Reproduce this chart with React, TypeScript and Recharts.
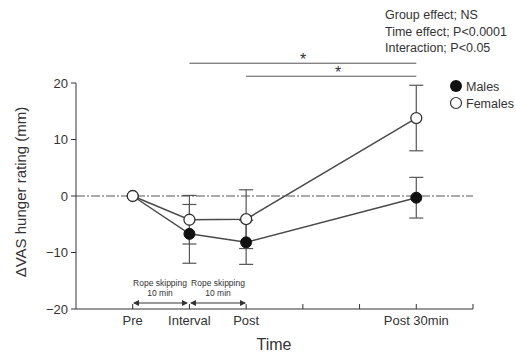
import {
  ComposedChart,
  Line,
  XAxis,
  YAxis,
  ErrorBar,
  ReferenceLine,
} from 'recharts'

const timePoints = [1, 2, 3, 6]
const timeLabels: Record<number, string> = { 1: 'Pre', 2: 'Interval', 3: 'Post', 6: 'Post 30min' }
const xTicks = [1, 2, 3, 4, 5, 6, 7]
const yTicks = [-20, -10, 0, 10, 20]

const malesMean = [0, -6.7, -8.2, -0.3]
const malesSE = [0, 5.2, 3.9, 3.6]
const femalesMean = [0, -4.2, -4.1, 13.8]
const femalesSE = [0, 4.3, 5.2, 5.8]

const statsLines = ['Group effect; NS', 'Time effect; P<0.0001', 'Interaction; P<0.05']

const data = timePoints.map((t, i) => ({
  t,
  males: malesMean[i],
  malesErr: malesSE[i],
  females: femalesMean[i],
  femalesErr: femalesSE[i],
}))

const FONT = 'Arial, "Liberation Sans", sans-serif'
const INK = '#333'

// eslint-disable-next-line @typescript-eslint/no-explicit-any
function TimeTick({ x, y, payload }: any) {
  const label = timeLabels[payload.value]
  return (
    <g>
      <line x1={x} x2={x} y1={y} y2={y - 5} stroke={INK} strokeWidth={1} />
      {label && (
        <text x={x} y={y + 16} textAnchor="middle" fontSize={13} fill={INK} fontFamily={FONT}>
          {label}
        </text>
      )}
    </g>
  )
}

function Arrow({ x1, x2, y }: { x1: number; x2: number; y: number }) {
  return (
    <g stroke={INK} fill={INK} strokeWidth={1}>
      <line x1={x1 + 1} x2={x2 - 1} y1={y} y2={y} />
      <polygon points={`${x1},${y} ${x1 + 6},${y - 3} ${x1 + 6},${y + 3}`} strokeWidth={0} />
      <polygon points={`${x2},${y} ${x2 - 6},${y - 3} ${x2 - 6},${y + 3}`} strokeWidth={0} />
    </g>
  )
}

export default function App() {
  return (
    <div style={{ position: 'absolute', left: 0, top: 0, width: 516, height: 354, background: '#fff' }}>
      <ComposedChart
        width={516}
        height={354}
        data={data}
        margin={{ top: 83, right: 43, bottom: 15, left: 36 }}
      >
        <XAxis
          dataKey="t"
          type="number"
          domain={[0, 7]}
          ticks={xTicks}
          interval={0}
          height={30}
          tickSize={0}
          tickMargin={0}
          tickLine={false}
          tick={<TimeTick />}
          axisLine={{ stroke: INK, strokeWidth: 1 }}
        />
        <YAxis
          type="number"
          domain={[-20, 20]}
          ticks={yTicks}
          width={40}
          tickSize={5}
          tickMargin={3}
          tickFormatter={(v: number) => (v < 0 ? '\u2212' + Math.abs(v) : String(v))}
          tick={{ fontSize: 13, fill: INK, fontFamily: FONT }}
          tickLine={{ stroke: INK }}
          axisLine={{ stroke: INK, strokeWidth: 1 }}
        />
        <ReferenceLine y={0} stroke="#555" strokeWidth={1} strokeDasharray="9 2 2 2" />
        <ReferenceLine
          segment={[{ x: 2, y: 23.5 }, { x: 6, y: 23.5 }]}
          stroke="#555"
          strokeWidth={1}
          ifOverflow="visible"
        />
        <ReferenceLine
          segment={[{ x: 3, y: 21.2 }, { x: 6, y: 21.2 }]}
          stroke="#555"
          strokeWidth={1}
          ifOverflow="visible"
        />
        <Line
          dataKey="males"
          type="linear"
          stroke="#4a4a4a"
          strokeWidth={1.5}
          isAnimationActive={false}
          dot={{ r: 5.5, fill: '#111', stroke: '#111', strokeWidth: 1 }}
        >
          <ErrorBar dataKey="malesErr" direction="y" width={7} stroke="#555" strokeWidth={1.2} />
        </Line>
        <Line
          dataKey="females"
          type="linear"
          stroke="#4a4a4a"
          strokeWidth={1.5}
          isAnimationActive={false}
          dot={{ r: 5.5, fill: '#fff', stroke: '#333', strokeWidth: 1.3 }}
        >
          <ErrorBar dataKey="femalesErr" direction="y" width={7} stroke="#555" strokeWidth={1.2} />
        </Line>
      </ComposedChart>

      <svg
        width={516}
        height={354}
        style={{ position: 'absolute', left: 0, top: 0, pointerEvents: 'none' }}
        fontFamily={FONT}
      >
        {statsLines.map((s, i) => (
          <text key={s} x={385} y={19 + i * 16.5} fontSize={12.5} fill={INK}>
            {s}
          </text>
        ))}
        <text x={303} y={65} textAnchor="middle" fontSize={16} fill={INK}>*</text>
        <text x={338} y={78} textAnchor="middle" fontSize={16} fill={INK}>*</text>

        <circle cx={456} cy={86} r={6} fill="#111" />
        <text x={466} y={91} fontSize={12.5} fill={INK}>Males</text>
        <circle cx={456} cy={103} r={5.5} fill="#fff" stroke="#333" strokeWidth={1.2} />
        <text x={466} y={108} fontSize={12.5} fill={INK}>Females</text>

        <text x={160} y={286} textAnchor="middle" fontSize={8.5} fill={INK}>Rope skipping</text>
        <text x={160} y={296} textAnchor="middle" fontSize={8.5} fill={INK}>10 min</text>
        <text x={218} y={286} textAnchor="middle" fontSize={8.5} fill={INK}>Rope skipping</text>
        <text x={218} y={296} textAnchor="middle" fontSize={8.5} fill={INK}>10 min</text>
        <Arrow x1={133} x2={188} y={303} />
        <Arrow x1={190} x2={246} y={303} />

        <text
          x={26}
          y={192}
          transform="rotate(-90 26 192)"
          textAnchor="middle"
          fontSize={15}
          fill={INK}
        >
          ΔVAS hunger rating (mm)
        </text>
        <text x={274} y={350} textAnchor="middle" fontSize={16} fill={INK}>Time</text>
      </svg>
    </div>
  )
}
